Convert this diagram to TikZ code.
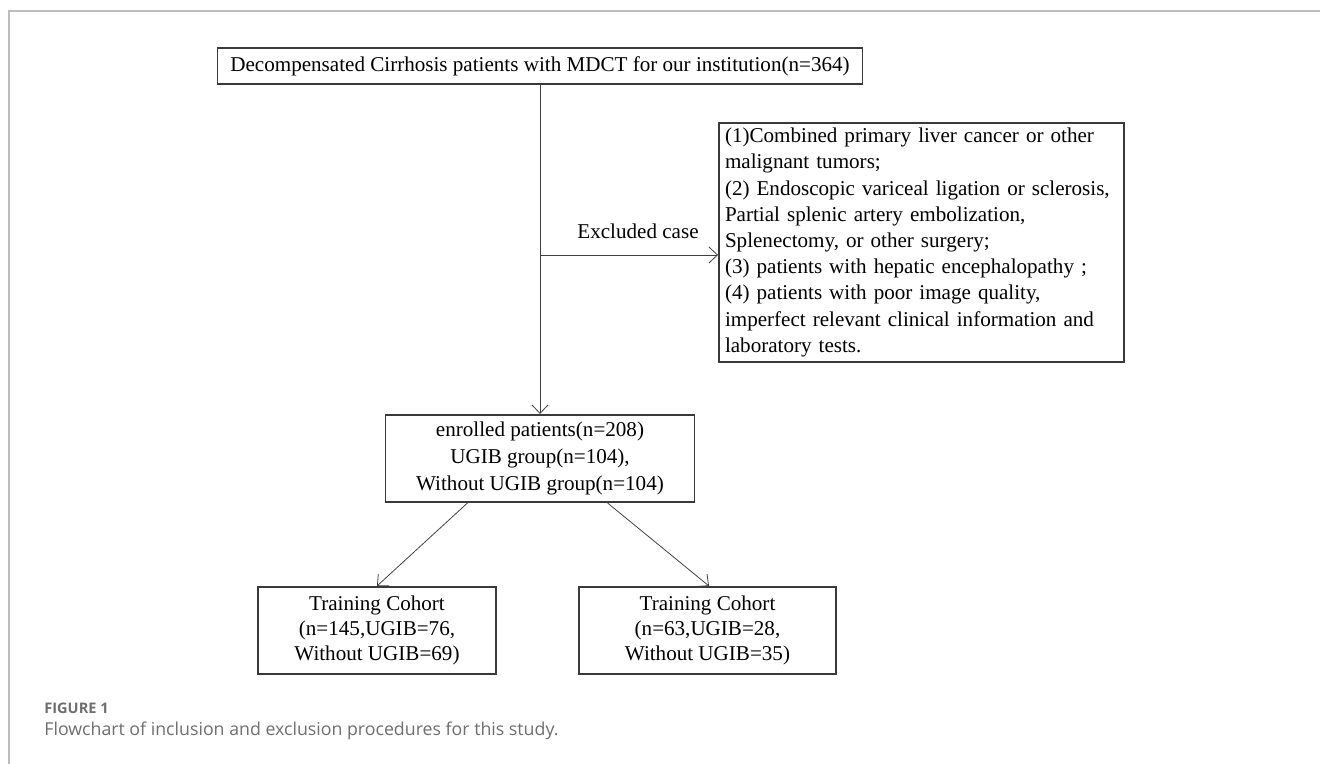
\documentclass[tikz,border=0pt]{standalone}
\usepackage{fontspec}
\setmainfont{Liberation Serif}
\newfontfamily\capfont{Open Sans}
\usetikzlibrary{arrows.meta}
\definecolor{framegray}{HTML}{BDBDBD}
\definecolor{boxline}{HTML}{3A3A3A}
\definecolor{capgray}{HTML}{6E6E6E}
\begin{document}
\begin{tikzpicture}[
    box/.style={draw=boxline,line width=1.1pt,inner sep=0pt,align=center,
      font=\fontsize{12}{15}\selectfont},
    arr/.style={-{Straight Barb[length=1.7mm,width=3.2mm]},draw=black!75,line width=0.45pt}]
      \useasboundingbox (0,0) rectangle (26.4,15.28);

      % frame of the figure
      \draw[framegray,line width=1.1pt] (0.18,0) -- (0.18,15.06) -- (26.4,15.06);

      \node[box,minimum width=12.9cm,minimum height=0.72cm] (all) at (10.8,13.96)
        {Decompensated Cirrhosis patients with MDCT for our institution(n=364)};

      \node[box,minimum width=8.1cm,minimum height=4.78cm,align=left,
        text width=7.86cm,inner xsep=0.12cm,font=\fontsize{12}{14.9}\selectfont] (excl) at (18.43,10.43)
        {(1)Combined primary liver cancer or other\\
         malignant tumors;\\
         (2) Endoscopic variceal ligation or sclerosis,\\
         Partial splenic artery embolization,\\
         Splenectomy, or other surgery;\\
         (3) patients with hepatic encephalopathy ;\\
         (4) patients with poor image quality,\\
         imperfect relevant clinical information and\\
         laboratory tests.};

      \node[box,minimum width=6.18cm,minimum height=1.74cm,
        font=\fontsize{12}{15.4}\selectfont] (enr) at (10.8,6.11)
        {enrolled patients(n=208)\\ UGIB group(n=104),\\ Without UGIB group(n=104)};

      \node[box,minimum width=4.76cm,minimum height=1.74cm,
        font=\fontsize{12}{14.2}\selectfont] (train) at (7.54,2.67)
        {Training Cohort\\ (n=145,UGIB=76,\\ Without UGIB=69)};

      \node[box,minimum width=5.14cm,minimum height=1.74cm,
        font=\fontsize{12}{14.2}\selectfont] (valid) at (14.15,2.67)
        {Training Cohort\\ (n=63,UGIB=28,\\ Without UGIB=35)};

      \coordinate (split) at (10.8,10.18);
      \draw[arr] (all.south) -- (enr.north);
      \draw[arr] (split) -- (split -| excl.west);
      \node[font=\fontsize{12}{14}\selectfont] (exlab) at (12.76,10.66) {Excluded case};

      \draw[arr] ([xshift=-1.45cm]enr.south) -- (train.north);
      \draw[arr] ([xshift=1.35cm]enr.south) -- ([xshift=0.03cm]valid.north);

      % caption
      \node[anchor=west,inner sep=0pt,text=capgray,font=\capfont\bfseries\fontsize{8.3}{10}\selectfont]
        (fig) at (0.88,1.12) {FIGURE 1};
      \node[anchor=west,inner sep=0pt,text=capgray,font=\capfont\fontsize{10.1}{12}\selectfont]
        (cap) at (0.88,0.66) {Flowchart of inclusion and exclusion procedures for this study.};

    \end{tikzpicture}
\end{document}
